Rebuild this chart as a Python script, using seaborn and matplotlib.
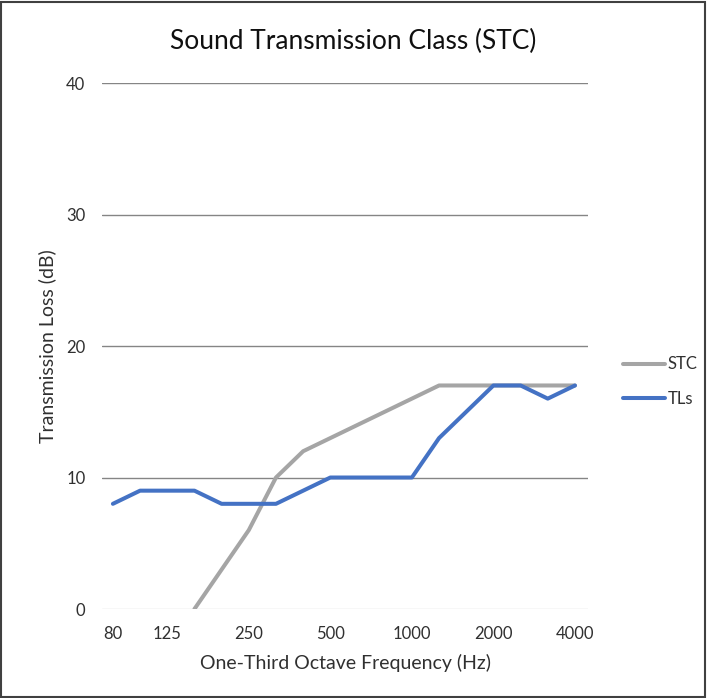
import matplotlib
matplotlib.use("Agg")
import matplotlib.pyplot as plt
from matplotlib.patches import Rectangle
import seaborn as sns
import numpy as np
import pandas as pd

# one-third octave bands, 80 Hz .. 4000 Hz
freqs = ["80", "100", "125", "160", "200", "250", "315", "400", "500",
         "630", "800", "1000", "1250", "1600", "2000", "2500", "3150", "4000"]
tls = [8, 9, 9, 9, 8, 8, 8, 9, 10, 10, 10, 10, 13, 15, 17, 17, 16, 17]
stc = [np.nan, np.nan, np.nan, 0, 3, 6, 10, 12, 13, 14, 15, 16, 17, 17, 17, 17, 17, 17]
tick_labels = ["80", "125", "250", "500", "1000", "2000", "4000"]
y_ticks = [0, 10, 20, 30, 40]

df = pd.DataFrame({"band": freqs, "pos": range(len(freqs)), "STC": stc, "TLs": tls})
long_df = df.melt(id_vars=["band", "pos"], value_vars=["STC", "TLs"],
                  var_name="series", value_name="dB").dropna()

sns.set_style("white")
plt.rcParams["font.family"] = ["Lato", "DejaVu Sans"]
text_col = "#303030"

fig = plt.figure(figsize=(7.07, 6.98), dpi=100)
ax = fig.add_axes([0.1443, 0.1275, 0.6874, 0.7535])

sns.lineplot(data=long_df, x="pos", y="dB", hue="series",
             palette={"STC": "#A5A5A5", "TLs": "#4472C4"},
             linewidth=2.9, ax=ax, legend=False)

ax.set_ylim(0, 40)
ax.set_xlim(-0.4, 17.48)
ax.set_yticks(y_ticks)
for y in y_ticks[1:]:
    ax.axhline(y, color="#858585", lw=1.0, zorder=0)
ax.axhline(0, color="#D9D9D9", lw=1.0, zorder=0)

tick_pos = [freqs.index(t) for t in tick_labels]
ax.set_xticks(tick_pos)
ax.set_xticklabels(tick_labels)
ax.tick_params(axis="both", length=0, labelsize=12, colors=text_col)
ax.tick_params(axis="x", pad=12)
ax.tick_params(axis="y", pad=12)
for s in ax.spines.values():
    s.set_visible(False)

ax.set_xlabel("One-Third Octave Frequency (Hz)", fontsize=14, color=text_col, labelpad=9)
ax.set_ylabel("Transmission Loss (dB)", fontsize=14, color=text_col, labelpad=7)
fig.text(0.5, 0.94, "Sound Transmission Class (STC)", ha="center", va="center",
         fontsize=19, color="#101010")

handles = [plt.Line2D([], [], color="#A5A5A5", lw=2.9),
           plt.Line2D([], [], color="#4472C4", lw=2.9)]
leg = fig.legend(handles, ["STC", "TLs"], loc="center left",
                 bbox_to_anchor=(0.860, 0.4534), frameon=False,
                 fontsize=12, handlelength=2.5, handletextpad=0.18,
                 labelspacing=1.1)
for t in leg.get_texts():
    t.set_color(text_col)

fig.patches.append(Rectangle((0.002, 0.002), 0.995, 0.995, transform=fig.transFigure,
                             fill=False, edgecolor="#404040", lw=1.5))

fig.savefig("out.png", dpi=100)
